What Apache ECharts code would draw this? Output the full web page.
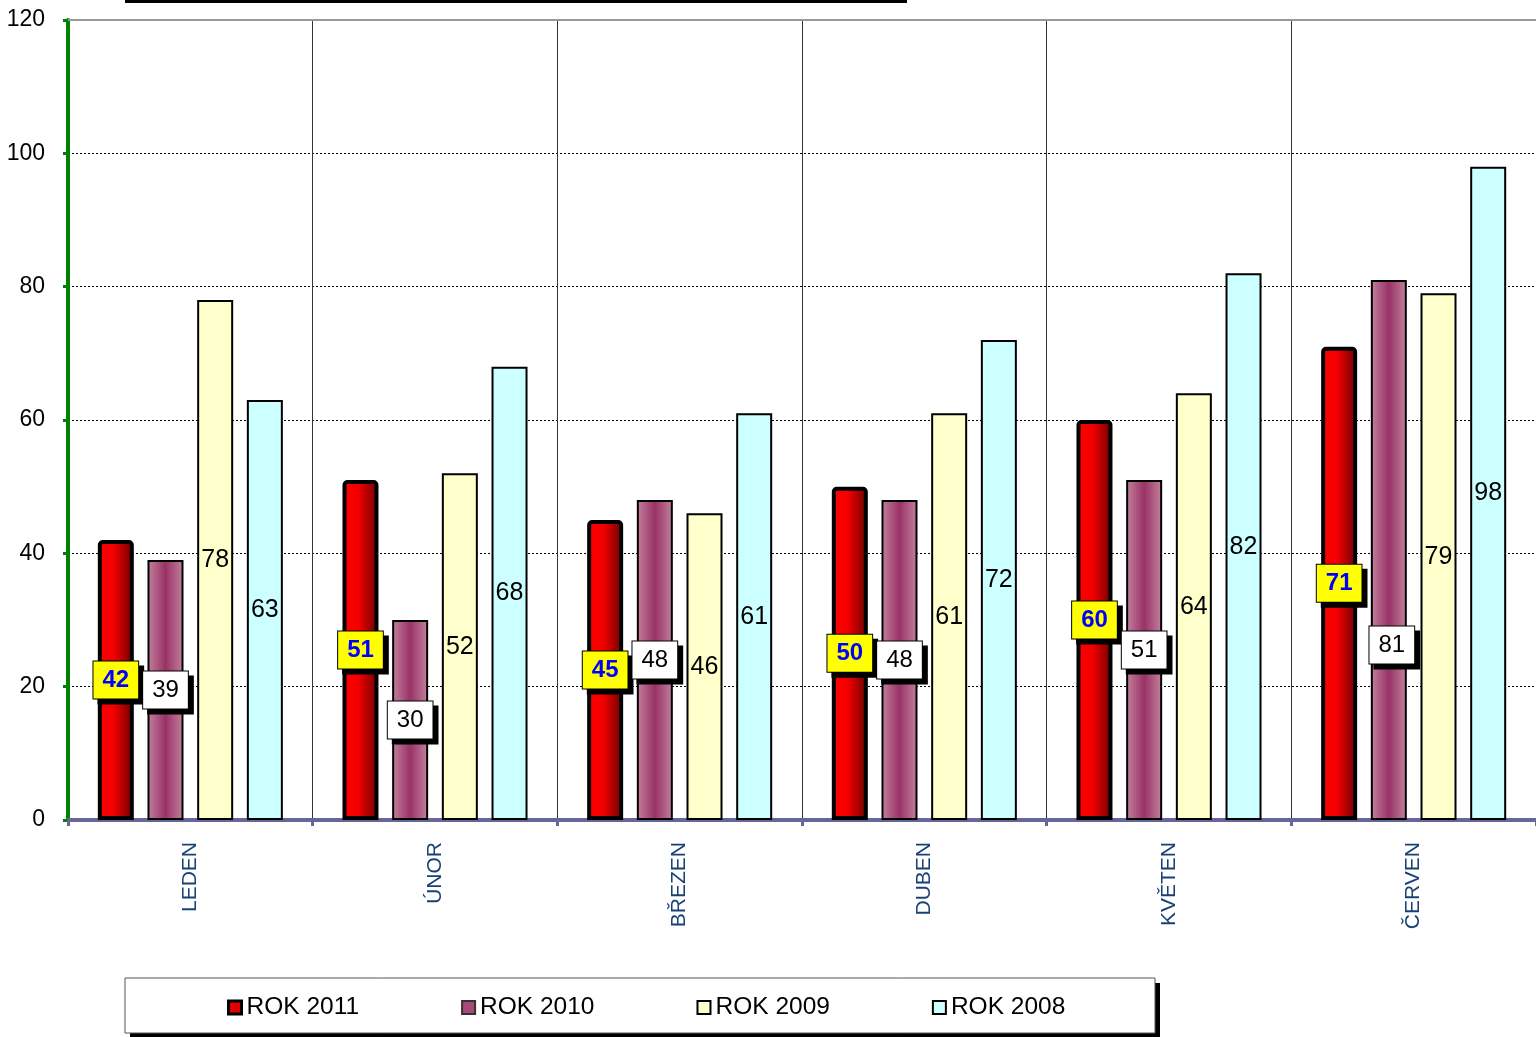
<!DOCTYPE html>
<html>
<head>
<meta charset="utf-8">
<script src="https://cdn.jsdelivr.net/npm/echarts@6/dist/echarts.min.js"></script>
<style>
html,body{margin:0;padding:0;background:#fff;}
#c{width:1536px;height:1037px;}
</style>
</head>
<body>
<div id="c"></div>
<script>
const categories = ['LEDEN', 'ÚNOR', 'BŘEZEN', 'DUBEN', 'KVĚTEN', 'ČERVEN'];
const seriesNames = ['ROK 2011', 'ROK 2010', 'ROK 2009', 'ROK 2008'];
const rok2011 = [42, 51, 45, 50, 60, 71];
const rok2010 = [39, 30, 48, 48, 51, 81];
const rok2009 = [78, 52, 46, 61, 64, 79];
const rok2008 = [63, 68, 61, 72, 82, 98];
const yTicks = { min: 0, max: 120, interval: 20 };

const FONT = "'Liberation Sans', Arial, sans-serif";

const redGrad = { type: 'linear', x: 0, y: 0, x2: 1, y2: 0, colorStops: [
  { offset: 0, color: '#ff0000' }, { offset: 0.45, color: '#f20000' }, { offset: 1, color: '#680000' }] };
const mauveGrad = { type: 'linear', x: 0, y: 0, x2: 1, y2: 0, colorStops: [
  { offset: 0, color: '#c4829f' }, { offset: 0.5, color: '#993366' }, { offset: 1, color: '#c4829f' }] };

const boxLabel = (bg, color, bold) => ({
  show: true, position: 'inside', fontFamily: FONT, fontSize: 24,
  fontWeight: bold ? 'bold' : 'normal', color: color,
  backgroundColor: bg, borderColor: '#000', borderWidth: 1,
  padding: [7, 9, 6, 9],
  shadowColor: '#000', shadowBlur: 0, shadowOffsetX: 5, shadowOffsetY: 5
});
const plainLabel = {
  show: true, position: 'inside', fontFamily: FONT, fontSize: 25, color: '#000'
};

// the June 2010 label sits lower in the original chart
const rok2010Data = rok2010.map((v, i) => i === 5 ? { value: v, label: { offset: [3, 95] } } : v);

const chart = echarts.init(document.getElementById('c'));
chart.setOption({
  animation: false,
  backgroundColor: '#fff',
  grid: { left: 68, right: 0, top: 20, bottom: 217, containLabel: false },
  graphic: [
    { type: 'rect', shape: { x: 125, y: 0, width: 782, height: 3 }, style: { fill: '#000' }, z: 10 },
    { type: 'rect', shape: { x: 130, y: 983, width: 1030, height: 55 }, style: { fill: '#000' }, z: 0 },
    { type: 'rect', shape: { x: 125, y: 978, width: 1030, height: 55 }, style: { fill: '#fff', stroke: '#555', lineWidth: 1 }, z: 1 }
  ],
  legend: {
    left: 222, top: 990, itemWidth: 13, itemHeight: 13, itemGap: 102, icon: 'rect',
    z: 5,
    textStyle: { fontFamily: FONT, fontSize: 24.5, color: '#000' },
    data: [
      { name: seriesNames[0], itemStyle: { color: '#e00000', borderColor: '#000', borderWidth: 3 } },
      { name: seriesNames[1], itemStyle: { color: '#a84a78', borderColor: '#333', borderWidth: 2 } },
      { name: seriesNames[2], itemStyle: { color: '#ffffcc', borderColor: '#000', borderWidth: 2 } },
      { name: seriesNames[3], itemStyle: { color: '#ccffff', borderColor: '#000', borderWidth: 2 } }
    ]
  },
  xAxis: {
    type: 'category', data: categories,
    axisLine: { show: true, lineStyle: { color: '#666699', width: 4 } },
    axisTick: { show: true, alignWithLabel: false, length: 6, lineStyle: { color: '#666699', width: 3 } },
    axisLabel: { rotate: 90, margin: 22, fontFamily: FONT, fontSize: 21, color: '#1a4175', interval: 0 },
    splitLine: { show: true, interval: 0, lineStyle: { color: '#333', width: 1 } }
  },
  yAxis: {
    type: 'value', min: yTicks.min, max: yTicks.max, interval: yTicks.interval,
    axisLine: { show: true, lineStyle: { color: '#008000', width: 4 } },
    axisTick: { show: true, inside: false, length: 5, lineStyle: { color: '#008000', width: 3 } },
    axisLabel: { margin: 23, fontFamily: "'Liberation Sans Narrow', 'Arial Narrow', 'Liberation Sans', Arial, sans-serif", fontSize: 23, color: '#000' },
    splitLine: { show: true, lineStyle: { color: '#000', width: 1, type: [2, 2] } }
  },
  series: [
    {
      name: seriesNames[0], type: 'bar', data: rok2011, barWidth: 36, barGap: '38%',
      itemStyle: { color: redGrad, borderColor: '#000', borderWidth: 4, borderRadius: [3, 3, 0, 0] },
      label: boxLabel('#ffff00', '#0000ff', true),
      markLine: { silent: true, symbol: 'none', label: { show: false },
        lineStyle: { color: '#999', width: 2, type: 'solid' }, data: [{ yAxis: 120 }] }
    },
    {
      name: seriesNames[1], type: 'bar', data: rok2010Data, barWidth: 36, barGap: '38%',
      itemStyle: { color: mauveGrad, borderColor: '#000', borderWidth: 2 },
      label: boxLabel('#ffffff', '#000', false)
    },
    {
      name: seriesNames[2], type: 'bar', data: rok2009, barWidth: 36, barGap: '38%',
      itemStyle: { color: '#ffffcc', borderColor: '#000', borderWidth: 2 },
      label: plainLabel
    },
    {
      name: seriesNames[3], type: 'bar', data: rok2008, barWidth: 36, barGap: '38%',
      itemStyle: { color: '#ccffff', borderColor: '#000', borderWidth: 2 },
      label: plainLabel
    }
  ]
});
</script>
</body>
</html>
